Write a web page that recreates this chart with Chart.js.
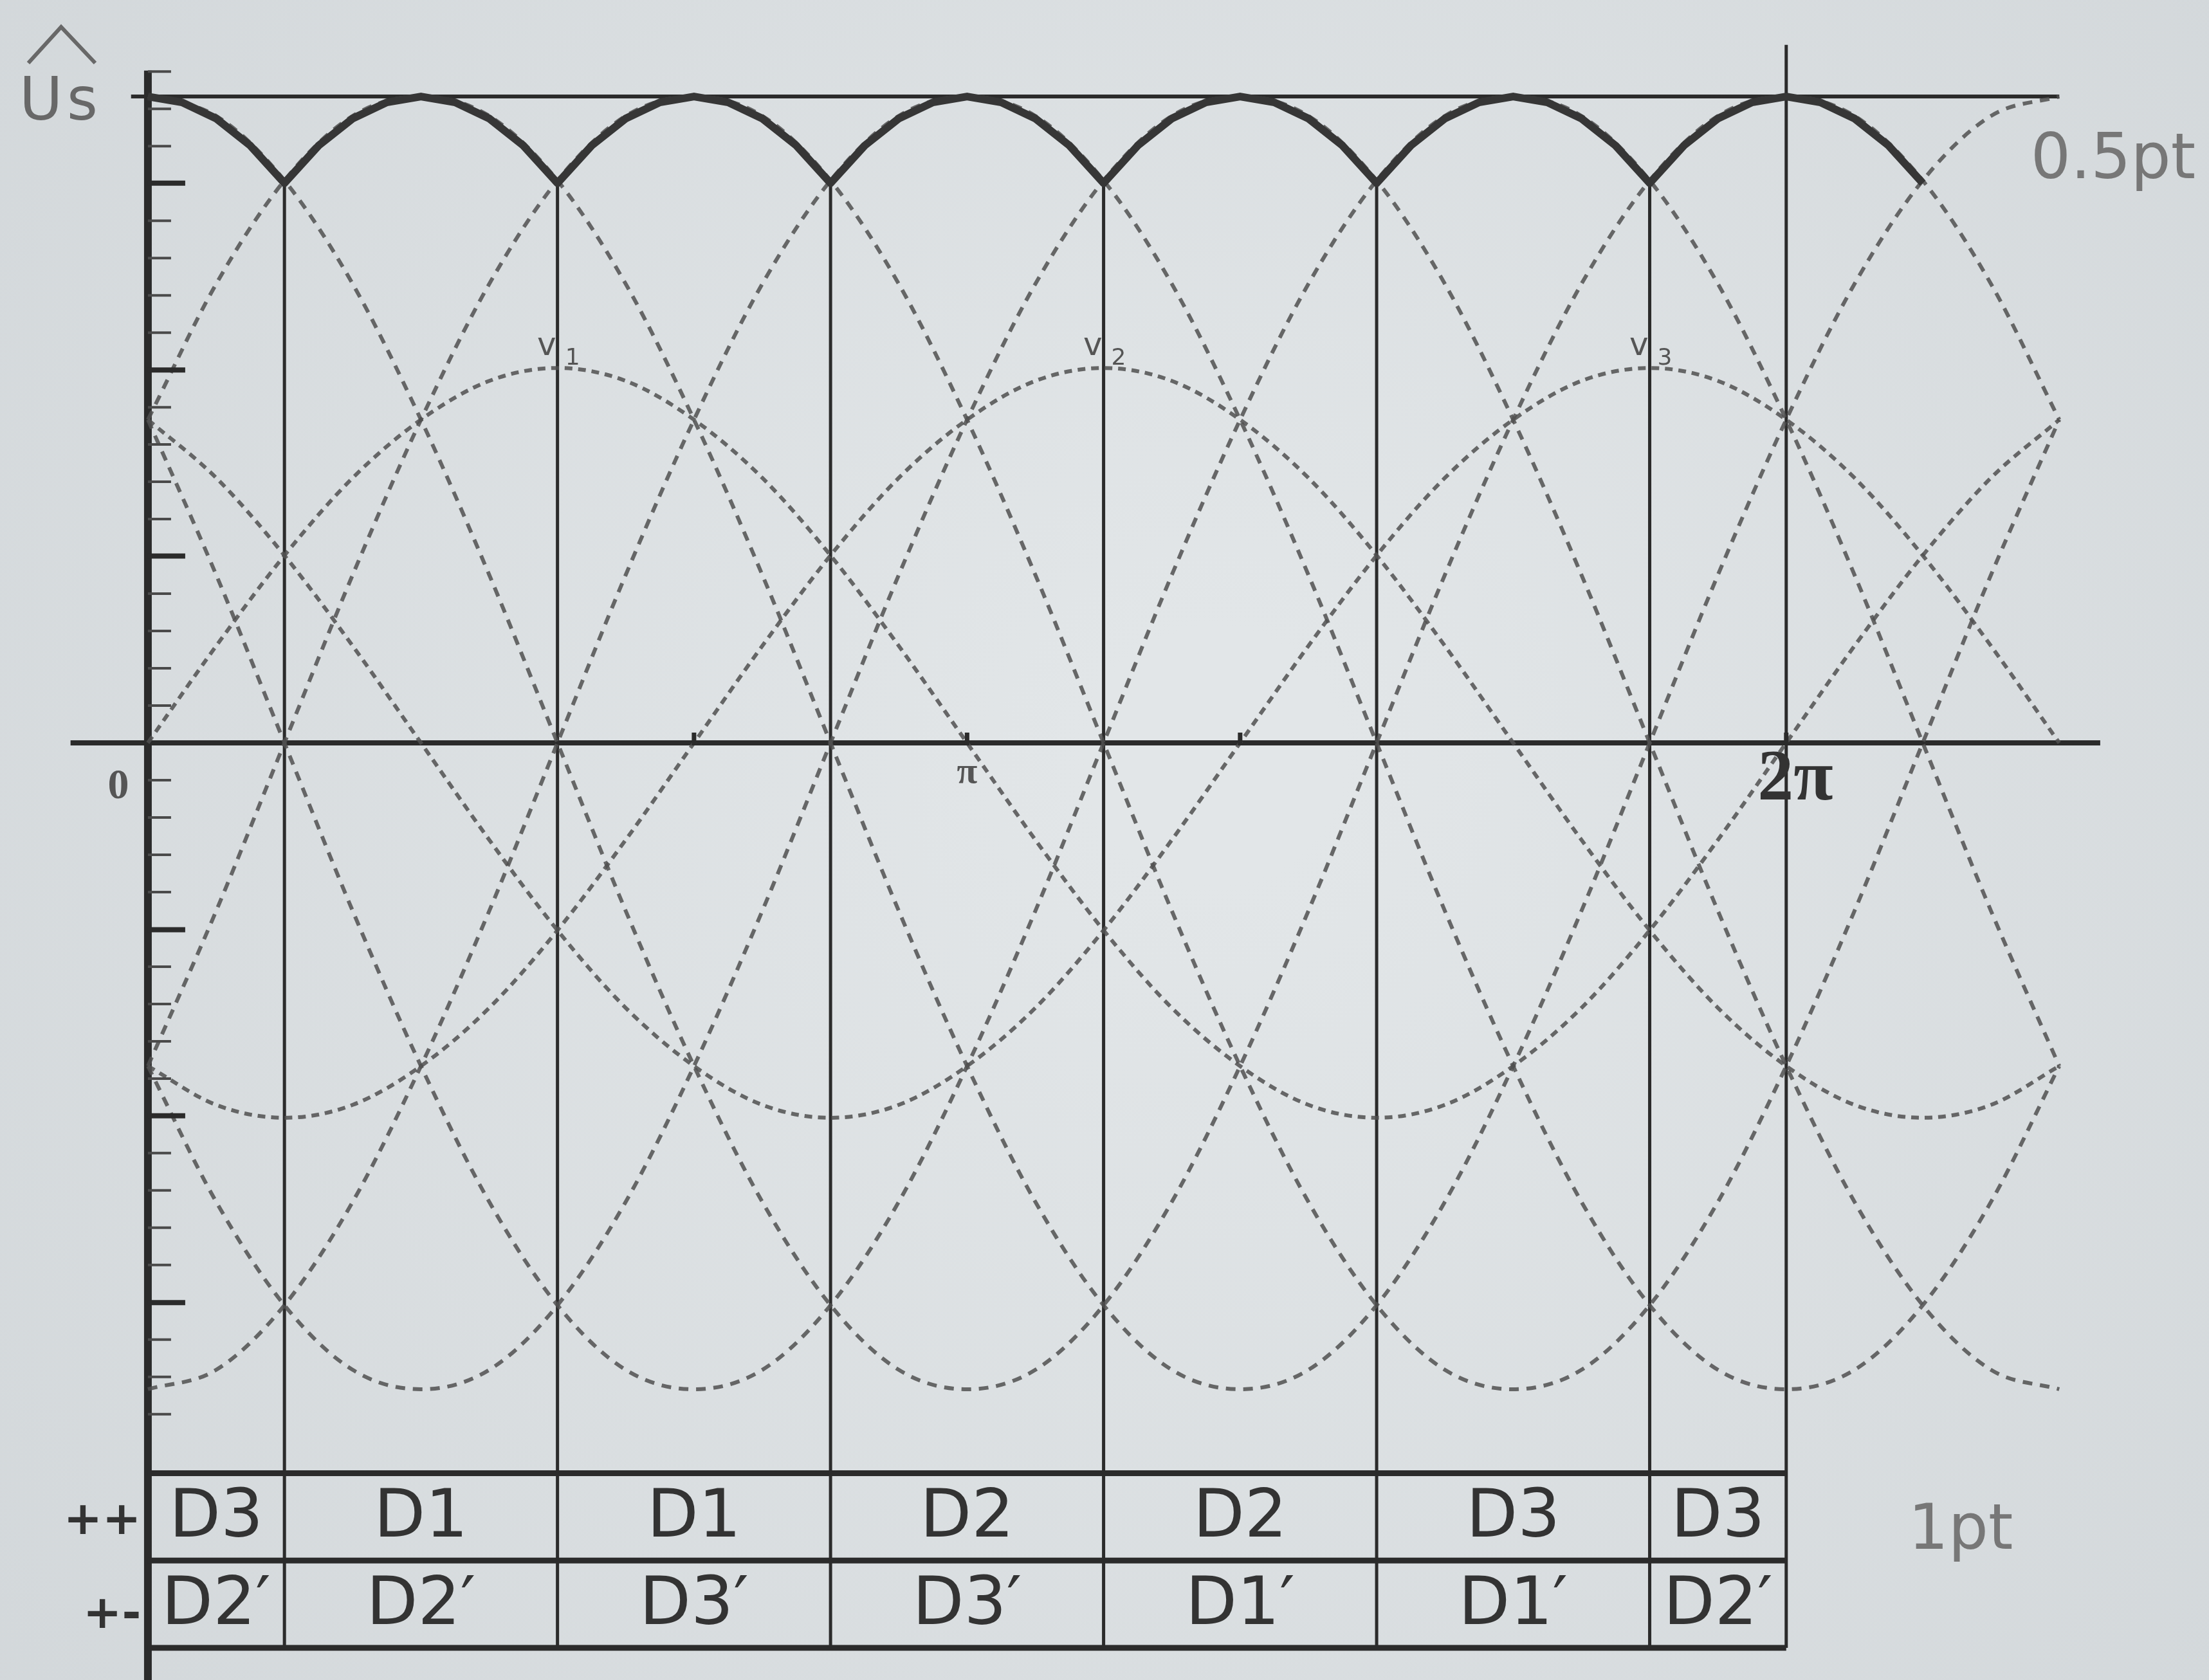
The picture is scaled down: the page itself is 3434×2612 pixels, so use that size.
<!DOCTYPE html>
<html>
<head>
<meta charset="utf-8">
<title>Three-phase bridge rectifier waveforms</title>
<script src="https://cdn.jsdelivr.net/npm/chart.js@4.4.1/dist/chart.umd.min.js"></script>
<style>
  html,body{margin:0;padding:0;background:#dde1e4;}
  canvas{display:block;}
</style>
</head>
<body>
<canvas id="wave" width="3434" height="2612"></canvas>
<script>
// angle grid in degrees, 0 .. 7pi/3
const thetaDeg = [0,15,30,45,60,75,90,105,120,135,150,165,180,195,210,225,240,255,270,285,300,315,330,345,360,375,390,405,420];

// line-to-line voltages, normalised to Us
const u32 = [1,.97,.87,.71,.5,.26,0,-.26,-.5,-.71,-.87,-.97,-1,-.97,-.87,-.71,-.5,-.26,0,.26,.5,.71,.87,.97,1,.97,.87,.71,.5];
const u12 = [.5,.71,.87,.97,1,.97,.87,.71,.5,.26,0,-.26,-.5,-.71,-.87,-.97,-1,-.97,-.87,-.71,-.5,-.26,0,.26,.5,.71,.87,.97,1];
const u13 = [-.5,-.26,0,.26,.5,.71,.87,.97,1,.97,.87,.71,.5,.26,0,-.26,-.5,-.71,-.87,-.97,-1,-.97,-.87,-.71,-.5,-.26,0,.26,.5];
const u23 = [-1,-.97,-.87,-.71,-.5,-.26,0,.26,.5,.71,.87,.97,1,.97,.87,.71,.5,.26,0,-.26,-.5,-.71,-.87,-.97,-1,-.97,-.87,-.71,-.5];
const u21 = [-.5,-.71,-.87,-.97,-1,-.97,-.87,-.71,-.5,-.26,0,.26,.5,.71,.87,.97,1,.97,.87,.71,.5,.26,0,-.26,-.5,-.71,-.87,-.97,-1];
const u31 = [.5,.26,0,-.26,-.5,-.71,-.87,-.97,-1,-.97,-.87,-.71,-.5,-.26,0,.26,.5,.71,.87,.97,1,.97,.87,.71,.5,.26,0,-.26,-.5];

// phase voltages
const v1 = [0,.15,.29,.41,.5,.56,.58,.56,.5,.41,.29,.15,0,-.15,-.29,-.41,-.5,-.56,-.58,-.56,-.5,-.41,-.29,-.15,0,.15,.29,.41,.5];
const v2 = [-.5,-.56,-.58,-.56,-.5,-.41,-.29,-.15,0,.15,.29,.41,.5,.56,.58,.56,.5,.41,.29,.15,0,-.15,-.29,-.41,-.5,-.56,-.58,-.56,-.5];
const v3 = [.5,.41,.29,.15,0,-.15,-.29,-.41,-.5,-.56,-.58,-.56,-.5,-.41,-.29,-.15,0,.15,.29,.41,.5,.56,.58,.56,.5,.41,.29,.15,0];

// rectified output (upper envelope), finer grid
const thetaEnv = [0,7.5,15,22.5,30,37.5,45,52.5,60,67.5,75,82.5,90,97.5,105,112.5,120,127.5,135,142.5,150,157.5,165,172.5,180,187.5,195,202.5,210,217.5,225,232.5,240,247.5,255,262.5,270,277.5,285,292.5,300,307.5,315,322.5,330,337.5,345,352.5,360,367.5,375,382.5,390];
const uOut = [1,.991,.966,.924,.866,.924,.966,.991,1,.991,.966,.924,.866,.924,.966,.991,1,.991,.966,.924,.866,.924,.966,.991,1,.991,.966,.924,.866,.924,.966,.991,1,.991,.966,.924,.866,.924,.966,.991,1,.991,.966,.924,.866,.924,.966,.991,1,.991,.966,.924,.866];

// commutation instants and conducting diodes
const colEdges = [0,30,90,150,210,270,330,360];
const upperRow = ['D3','D1','D1','D2','D2','D3','D3'];
const lowerRow = ['D2\u2032','D2\u2032','D3\u2032','D3\u2032','D1\u2032','D1\u2032','D2\u2032'];
const rowTags = ['++','+-'];

// axis ticks
const xTickDeg = [120,180,240,360];
const yMajor = [.866,.577,.289,-.289,-.577,-.866];
const yMinorStep = .0577;
const phaseTags = [{at:90,n:'1'},{at:210,n:'2'},{at:330,n:'3'}];

const tableTop = -1.13, tableMid = -1.265, tableBottom = -1.40;

const ink = '#2b2b2b';
const dashLine = {borderColor:'rgba(80,80,80,0.85)', borderWidth:6, borderDash:[15,12], pointRadius:0, cubicInterpolationMode:'monotone', fill:false};
const dashPhase = {borderColor:'rgba(80,80,80,0.85)', borderWidth:6, borderDash:[12,9], pointRadius:0, cubicInterpolationMode:'monotone', fill:false};

function curve(label, xs, ys, style){
  return Object.assign({label, data: ys.map((y,i)=>({x: xs[i], y}))}, style);
}
function seg(label, x0, y0, x1, y1, width){
  return {label, data:[{x:x0,y:y0},{x:x1,y:y1}], borderColor:ink, borderWidth:width, pointRadius:0, tension:0, fill:false};
}

const datasets = [
  curve('uOut', thetaEnv, uOut, {borderColor:'#363636', borderWidth:12, pointRadius:0, tension:0, fill:false, borderJoinStyle:'round'}),
  curve('u32', thetaDeg, u32, dashLine),
  curve('u12', thetaDeg, u12, dashLine),
  curve('u13', thetaDeg, u13, dashLine),
  curve('u23', thetaDeg, u23, dashLine),
  curve('u21', thetaDeg, u21, dashLine),
  curve('u31', thetaDeg, u31, dashLine),
  curve('v1', thetaDeg, v1, dashPhase),
  curve('v2', thetaDeg, v2, dashPhase),
  curve('v3', thetaDeg, v3, dashPhase),
  seg('Us', -3.7, 1, 420, 1, 6),
  seg('x axis', -17, 0, 429, 0, 8),
  seg('y axis', 0, 1.04, 0, -1.46, 12),
  seg('2pi', 360, 1.08, 360, tableBottom, 5)
];
colEdges.slice(1, -1).forEach(d => datasets.push(seg('c' + d, d, .866, d, tableBottom, 5)));

const paper = {
  id: 'paper',
  beforeDraw(chart){
    const {ctx, width, height} = chart;
    const g = ctx.createRadialGradient(width*0.55, height*0.45, 200, width*0.5, height*0.5, width*0.75);
    g.addColorStop(0, '#e2e6e8');
    g.addColorStop(1, '#d0d5d8');
    ctx.save(); ctx.fillStyle = g; ctx.fillRect(0, 0, width, height); ctx.restore();
  },
  afterDatasetsDraw(chart){
    const {ctx} = chart;
    const X = v => chart.scales.x.getPixelForValue(v);
    const Y = v => chart.scales.y.getPixelForValue(v);
    ctx.save();
    ctx.strokeStyle = ink; ctx.lineCap = 'butt';

    // y axis ticks, drawn to the right of the axis
    const x0 = X(0);
    for(let k = -18; k <= 18; k++){
      if(k === 0 || k % 5 === 0) continue;
      const y = Y(k * yMinorStep);
      ctx.lineWidth = 4; ctx.strokeStyle = '#4a4a4a';
      ctx.beginPath(); ctx.moveTo(x0, y); ctx.lineTo(x0 + 36, y); ctx.stroke();
    }
    yMajor.forEach(v => {
      ctx.lineWidth = 8; ctx.strokeStyle = ink;
      ctx.beginPath(); ctx.moveTo(x0, Y(v)); ctx.lineTo(x0 + 58, Y(v)); ctx.stroke();
    });

    // x axis marks
    xTickDeg.forEach(d => {
      ctx.lineWidth = 7;
      ctx.beginPath(); ctx.moveTo(X(d), Y(0) - 16); ctx.lineTo(X(d), Y(0) + 4); ctx.stroke();
    });

    // table rows
    ctx.lineWidth = 9; ctx.strokeStyle = ink;
    [tableTop, tableMid, tableBottom].forEach(v => {
      ctx.beginPath(); ctx.moveTo(X(0), Y(v)); ctx.lineTo(X(360), Y(v)); ctx.stroke();
    });

    // cell labels
    ctx.fillStyle = '#333';
    ctx.textAlign = 'center'; ctx.textBaseline = 'middle';
    ctx.font = '104px "DejaVu Sans"';
    for(let i = 0; i < upperRow.length; i++){
      const cx = X((colEdges[i] + colEdges[i+1]) / 2);
      ctx.fillText(upperRow[i], cx, Y((tableTop + tableMid) / 2) + 4);
      ctx.fillText(lowerRow[i], cx, Y((tableMid + tableBottom) / 2) + 4);
    }
    ctx.font = 'bold 72px "DejaVu Sans"';
    ctx.textAlign = 'right';
    ctx.fillText(rowTags[0], X(-1.5), Y((tableTop + tableMid) / 2) + 8);
    ctx.fillText(rowTags[1], X(-1.5), Y((tableMid + tableBottom) / 2) + 18);

    // axis labels
    ctx.fillStyle = '#686868';
    ctx.textAlign = 'left'; ctx.textBaseline = 'alphabetic';
    ctx.font = '92px "DejaVu Sans"';
    ctx.fillText('U', 30, 186);
    ctx.fillText('s', 104, 186);
    ctx.strokeStyle = '#686868'; ctx.lineWidth = 6;
    ctx.beginPath(); ctx.moveTo(44, 98); ctx.lineTo(95, 42); ctx.lineTo(148, 98); ctx.stroke();

    ctx.fillStyle = '#555';
    ctx.font = 'bold 66px "Liberation Serif"';
    ctx.textAlign = 'center';
    ctx.fillText('0', X(-6.5), Y(0) + 86);
    ctx.font = 'bold 58px "Liberation Serif"';
    ctx.fillText('\u03c0', X(180), Y(0) + 62);
    ctx.fillStyle = '#333';
    ctx.font = 'bold 112px "Liberation Serif"';
    ctx.fillText('2\u03c0', X(362), Y(0) + 88);

    // phase voltage tags
    ctx.fillStyle = '#555';
    phaseTags.forEach(t => {
      ctx.font = '50px "DejaVu Sans"'; ctx.textAlign = 'right';
      ctx.fillText('v', X(t.at) - 2, Y(.6));
      ctx.font = '36px "DejaVu Sans"'; ctx.textAlign = 'left';
      ctx.fillText(t.n, X(t.at) + 12, Y(.585));
    });

    // marks
    ctx.fillStyle = '#777';
    ctx.font = '98px "DejaVu Sans"';
    ctx.textAlign = 'center'; ctx.textBaseline = 'middle';
    ctx.fillText('0.5pt', 3285, 252);
    ctx.fillText('1pt', 3048, 2383);
    ctx.restore();
  }
};

new Chart(document.getElementById('wave'), {
  type: 'line',
  data: {datasets},
  options: {
    responsive: false,
    devicePixelRatio: 1,
    animation: false,
    events: [],
    layout: {padding: 0, autoPadding: false},
    plugins: {legend: {display: false}, tooltip: {enabled: false}},
    scales: {
      x: {type: 'linear', min: -32.5, max: 452.9, display: false},
      y: {type: 'linear', min: -1.4498, max: 1.1493, display: false}
    }
  },
  plugins: [paper]
});
</script>
</body>
</html>
